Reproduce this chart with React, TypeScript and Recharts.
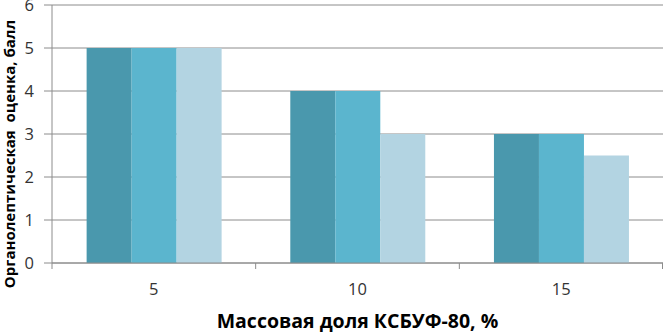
import React from 'react';
import { BarChart, Bar, XAxis, YAxis, CartesianGrid } from 'recharts';

const categories = ['5', '10', '15'];
const series1 = [5, 4, 3];
const series2 = [5, 4, 3];
const series3 = [5, 3, 2.5];
const yTicks = [0, 1, 2, 3, 4, 5, 6];

const data = categories.map((c, i) => ({ cat: c, s1: series1[i], s2: series2[i], s3: series3[i] }));

const FONT = '"Open Sans", "Liberation Sans", sans-serif';
const AXIS = '#8c8c8c';
const TICK_SIZE = 6;
const TICK_MARGIN = 14;

const YLabel = () => (
  <text
    x={11}
    y={154}
    transform="rotate(-90 11 154)"
    textAnchor="middle"
    dominantBaseline="middle"
    fontFamily={FONT}
    fontWeight="bold"
    fontSize={15}
    fill="#000"
    xmlSpace="preserve"
    style={{ whiteSpace: 'pre' }}
  >
    {'Органолептическая  оценка, балл'}
  </text>
);

const CatTick = (props: any) => {
  const { x, y, payload, width, visibleTicksCount, index } = props;
  const n = visibleTicksCount || categories.length;
  const band = width / n;
  const axisY = y - TICK_SIZE - TICK_MARGIN;
  const left = x - band / 2;
  const right = x + band / 2;
  return (
    <g>
      <line x1={left} x2={left} y1={axisY} y2={axisY + TICK_SIZE} stroke={AXIS} />
      {index === n - 1 && <line x1={right - 0.5} x2={right - 0.5} y1={axisY} y2={axisY + TICK_SIZE} stroke={AXIS} />}
      <text x={x} y={y} dy="0.71em" textAnchor="middle" fill="#333" fontSize={16.5} fontFamily={FONT}>
        {payload.value}
      </text>
    </g>
  );
};

export default function App() {
  return (
    <div style={{ position: 'absolute', left: 0, top: 0, width: 663, height: 333, background: '#fff' }}>
      <BarChart
        width={663}
        height={333}
        data={data}
        margin={{ top: 5, right: 0, left: 0, bottom: 0 }}
        barCategoryGap="17%"
        barGap={0}
      >
        <CartesianGrid vertical={false} stroke={AXIS} strokeWidth={1} />
        <XAxis
          dataKey="cat"
          height={70}
          tickLine={false}
          tickSize={TICK_SIZE}
          tickMargin={TICK_MARGIN}
          interval={0}
          axisLine={{ stroke: AXIS }}
          tick={<CatTick />}
          label={{ value: 'Массовая доля КСБУФ-80, %', position: 'insideBottom', offset: 5, fill: '#000', fontSize: 19.5, fontWeight: 'bold', fontFamily: FONT }}
        />
        <YAxis
          width={52}
          domain={[0, 6]}
          ticks={yTicks}
          interval={0}
          tickSize={8}
          tickMargin={10}
          axisLine={{ stroke: AXIS }}
          tickLine={{ stroke: AXIS }}
          tick={{ fill: '#333', fontSize: 16.5, fontFamily: FONT }}
          label={<YLabel />}
        />
        <Bar dataKey="s1" fill="#4a98ad" isAnimationActive={false} />
        <Bar dataKey="s2" fill="#5bb5ce" isAnimationActive={false} />
        <Bar dataKey="s3" fill="#b3d4e2" isAnimationActive={false} />
      </BarChart>
    </div>
  );
}
